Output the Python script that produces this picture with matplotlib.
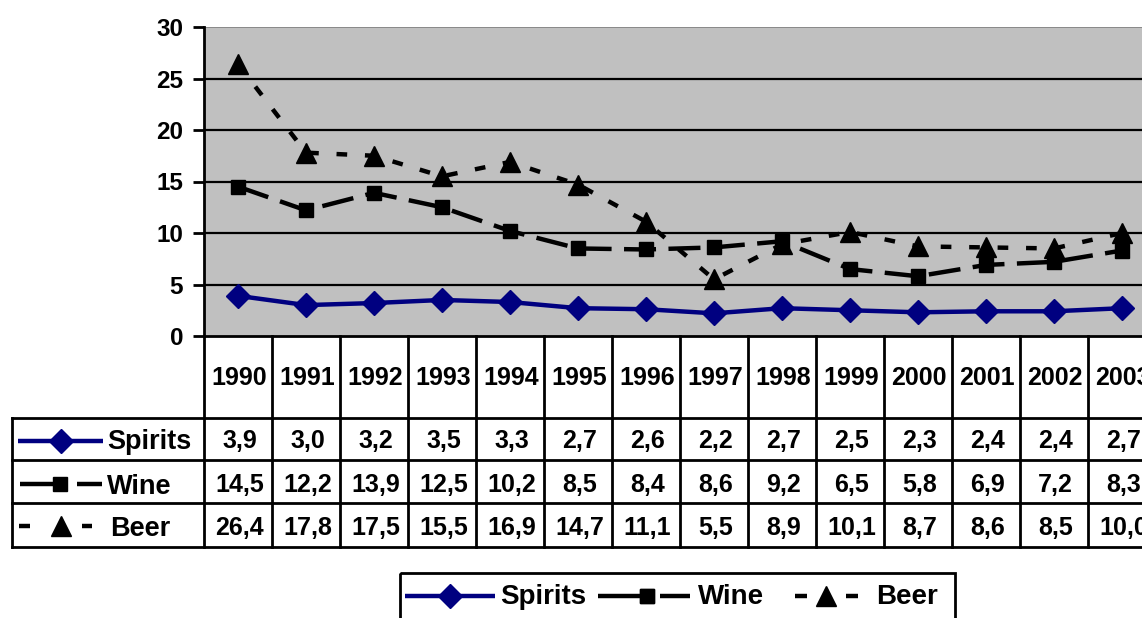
import matplotlib
matplotlib.use("Agg")
import matplotlib.pyplot as plt
import matplotlib.transforms as mtransforms
from matplotlib.lines import Line2D
from matplotlib.patches import Rectangle

years = ["1990", "1991", "1992", "1993", "1994", "1995", "1996",
         "1997", "1998", "1999", "2000", "2001", "2002", "2003"]
spirits = [3.9, 3.0, 3.2, 3.5, 3.3, 2.7, 2.6, 2.2, 2.7, 2.5, 2.3, 2.4, 2.4, 2.7]
wine = [14.5, 12.2, 13.9, 12.5, 10.2, 8.5, 8.4, 8.6, 9.2, 6.5, 5.8, 6.9, 7.2, 8.3]
beer = [26.4, 17.8, 17.5, 15.5, 16.9, 14.7, 11.1, 5.5, 8.9, 10.1, 8.7, 8.6, 8.5, 10.0]
series_names = ["Spirits", "Wine", "Beer"]
yticks = [0, 5, 10, 15, 20, 25, 30]

W, H = 1142, 618
FONT = "Liberation Sans"
FS_TICK = 17.5
FS_TAB = 18
FS_LAB = 20

fig = plt.figure(figsize=(W / 100, H / 100), dpi=100)
fig.patch.set_facecolor("white")

# plot area in pixels (top-left origin): x 204..1156, y 27..336
L, R, T, B = 204, 1156, 27, 336
ax = fig.add_axes([L / W, 1 - B / H, (R - L) / W, (B - T) / H])
ax.set_facecolor("#C0C0C0")
ax.set_xlim(-0.5, len(years) - 0.5)
ax.set_ylim(0, 30)
ax.set_yticks(yticks)
ax.set_yticklabels([str(v) for v in yticks], fontfamily=FONT, fontweight="bold", fontsize=FS_TICK)
ax.set_xticks([])
for y in yticks[1:-1]:
    ax.axhline(y, color="black", lw=1.6, zorder=1)
for s in ["top", "right"]:
    ax.spines[s].set_visible(False)
ax.spines["left"].set_linewidth(2)
ax.spines["bottom"].set_linewidth(2)
ax.axhline(30, color="#808080", lw=1.2, zorder=1)
ax.tick_params(axis="y", length=8, width=2, pad=7)

styles = {
    "Spirits": dict(color="#000080", lw=3.2, marker="D", ms=12, ls="-"),
    "Wine": dict(color="black", lw=3.2, marker="s", ms=10.5, ls=(0, (7.2, 2.8))),
    "Beer": dict(color="black", lw=3.2, marker="^", ms=15, ls=(0, (2.4, 4.0))),
}
xs = list(range(len(years)))
for name, vals in zip(series_names, [spirits, wine, beer]):
    st = styles[name]
    ax.plot(xs, vals, color=st["color"], lw=st["lw"], ls=st["ls"], marker=st["marker"],
            ms=st["ms"], mfc=st["color"], mec=st["color"], zorder=3, clip_on=False)

# transforms: figure pixel coordinates (top-left origin)
px = mtransforms.Affine2D().scale(1 / W, -1 / H).translate(0, 1) + fig.transFigure
blend = mtransforms.blended_transform_factory(ax.transData, px)

def hline(x0, x1, y, lw=2):
    fig.add_artist(Line2D([x0, x1], [y, y], transform=px, color="black", lw=lw, clip_on=False))

def vline_px(x, y0, y1, lw=2):
    fig.add_artist(Line2D([x, x], [y0, y1], transform=px, color="black", lw=lw, clip_on=False))

# data table
row_tops = [418, 460, 503, 547]
for i in range(len(years) + 1):
    fig.add_artist(Line2D([i - 0.5, i - 0.5], [B, row_tops[-1]], transform=blend,
                          color="black", lw=2, clip_on=False))
for y in row_tops:
    hline(12, W + 20, y)
vline_px(12, row_tops[0], row_tops[-1])

txt_kw = dict(fontfamily=FONT, fontweight="bold", fontsize=FS_TAB, ha="center", va="center")
for i, yr in enumerate(years):
    fig.text(i + 0.02, 378, yr, transform=blend, **txt_kw)
row_centers = [441, 485, 528]
for vals, yc in zip([spirits, wine, beer], row_centers):
    for i, v in enumerate(vals):
        fig.text(i + 0.02, yc, f"{v:.1f}".replace(".", ","), transform=blend, **txt_kw)

def legend_sample(name, segments, xm, y):
    st = styles[name]
    for x0, x1 in segments:
        fig.add_artist(Line2D([x0, x1], [y, y], transform=px, color=st["color"],
                              lw=st["lw"], solid_capstyle="butt", clip_on=False))
    fig.add_artist(Line2D([xm], [y], transform=px, color=st["color"], marker=st["marker"],
                          ms=st["ms"], mfc=st["color"], mec=st["color"], ls="none", clip_on=False))

lab_kw = dict(fontfamily=FONT, fontweight="bold", fontsize=19.5, ha="left", va="center")
legend_sample("Spirits", [(18, 103)], 61, 441)
fig.text(107, 442, "Spirits", transform=px, **lab_kw)
legend_sample("Wine", [(20, 64), (77, 102)], 60, 484)
fig.text(107, 487, "Wine", transform=px, **lab_kw)
legend_sample("Beer", [(19, 30), (82, 92)], 61, 526)
fig.text(110, 529, "Beer", transform=px, **lab_kw)

# bottom legend
fig.add_artist(Rectangle((400, 573), 555, 60, transform=px, fill=False, ec="black", lw=2,
                         clip_on=False))
ly = 596
leg_kw = dict(lab_kw, fontsize=FS_LAB)
legend_sample("Spirits", [(405, 495)], 450, ly)
fig.text(500, ly + 1, "Spirits", transform=px, **leg_kw)
legend_sample("Wine", [(598, 645)], 647, ly)
legend_sample("Wine", [(660, 690)], 647, ly)
fig.text(698, ly + 1, "Wine", transform=px, **leg_kw)
legend_sample("Beer", [(795, 807), (846, 858)], 826, ly)
fig.text(876, ly + 1, "Beer", transform=px, **leg_kw)

fig.savefig("out.png", dpi=100)
